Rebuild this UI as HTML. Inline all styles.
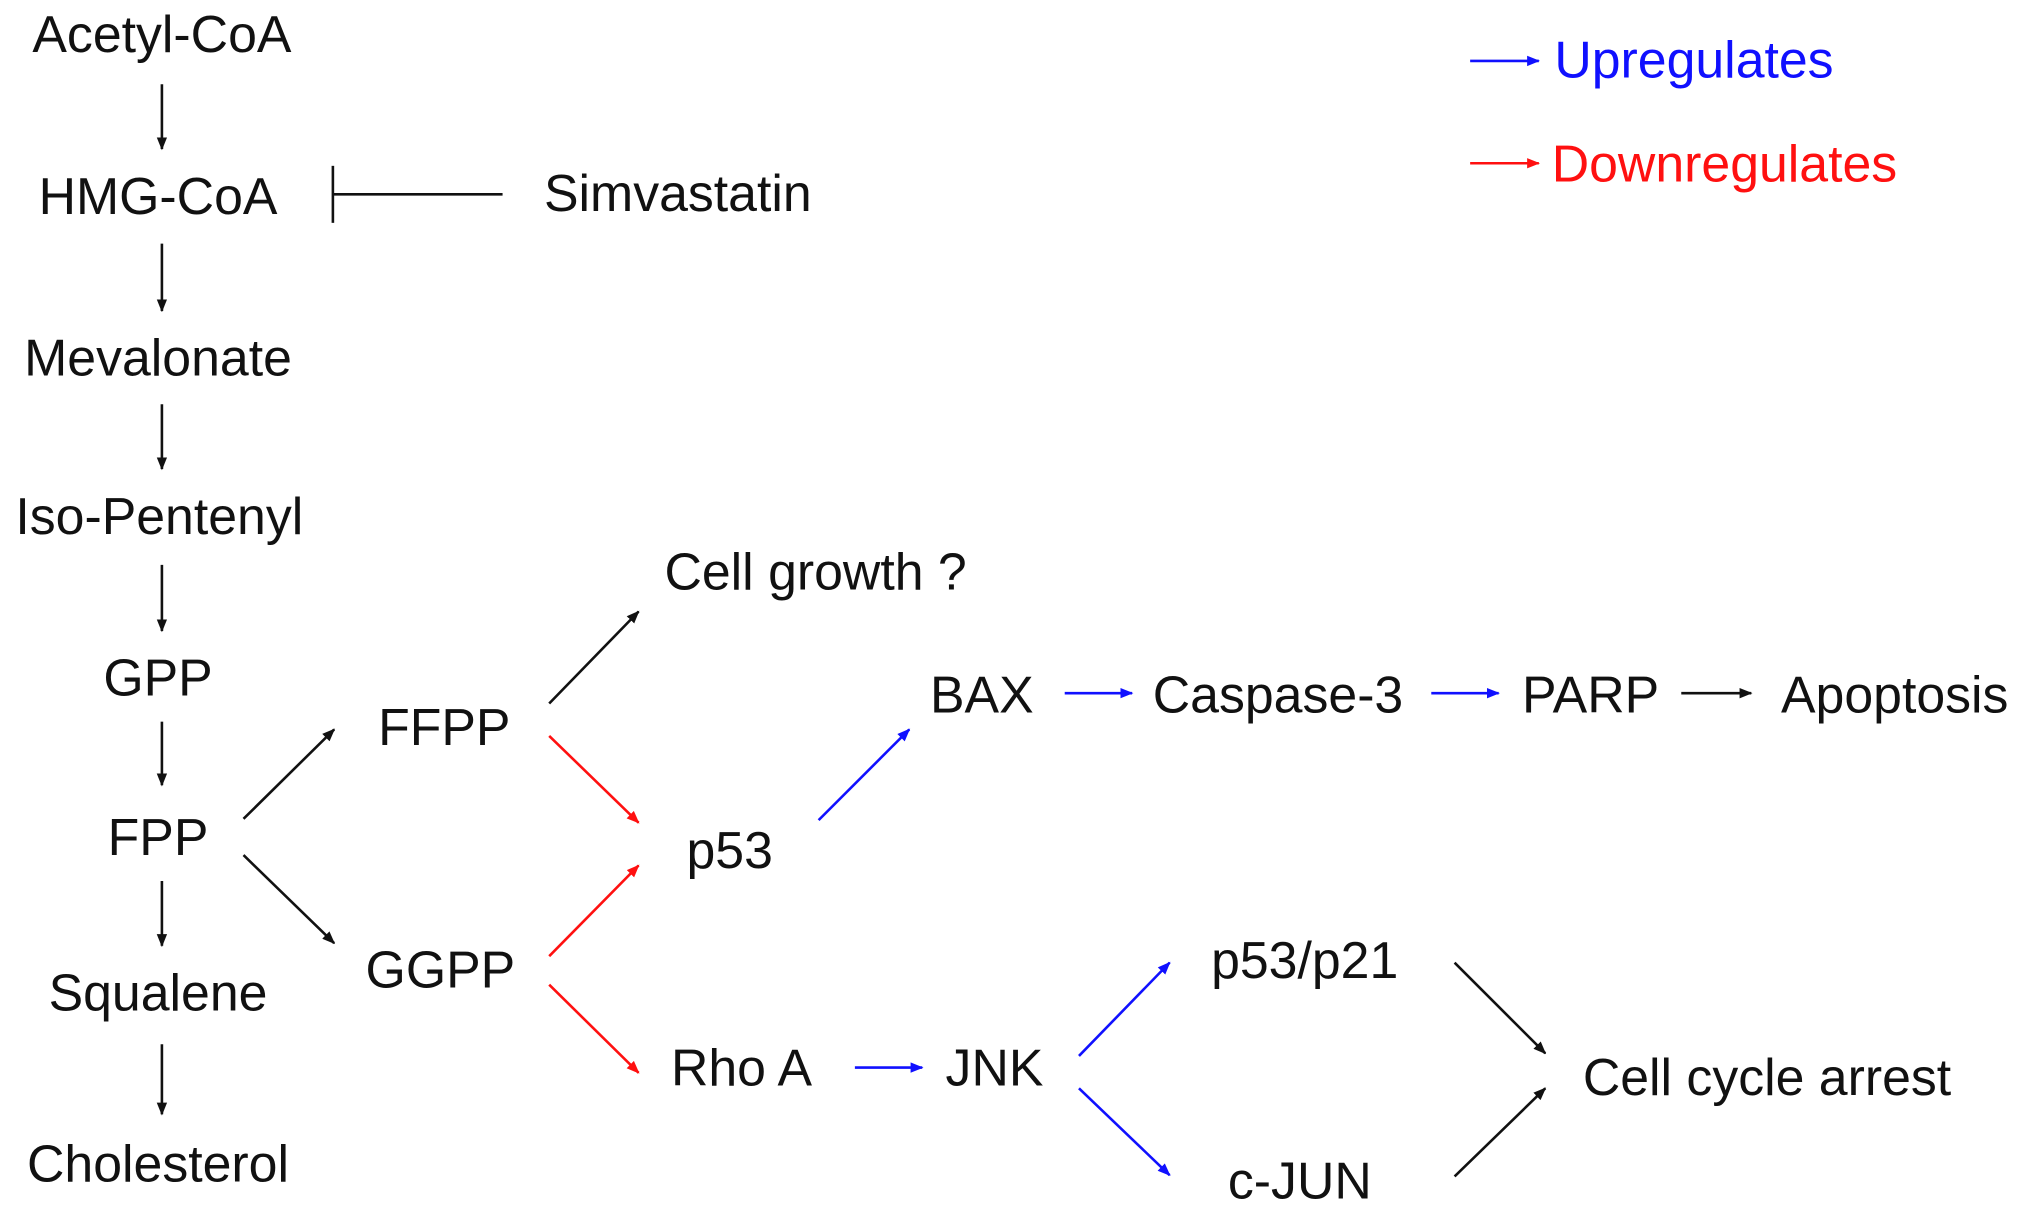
<!DOCTYPE html>
<html><head><meta charset="utf-8"><style>html,body{margin:0;padding:0;background:#fff}svg{display:block}</style></head><body>
<svg width="2031" height="1214" viewBox="0 0 1568 937" preserveAspectRatio="none" xmlns="http://www.w3.org/2000/svg">
<defs>
<marker id="k" viewBox="0 0 10 10" refX="9" refY="5" markerWidth="5" markerHeight="5" orient="auto"><path d="M0,1L10,5L0,9z" fill="#111"/></marker>
<marker id="b" viewBox="0 0 10 10" refX="9" refY="5" markerWidth="5" markerHeight="5" orient="auto"><path d="M0,1L10,5L0,9z" fill="#1010ff"/></marker>
<marker id="r" viewBox="0 0 10 10" refX="9" refY="5" markerWidth="5" markerHeight="5" orient="auto"><path d="M0,1L10,5L0,9z" fill="#ff1010"/></marker>
</defs>
<g font-family="Liberation Sans, Arial, sans-serif" font-size="40" fill="#111">
<g text-anchor="middle">
<text x="125" y="40">Acetyl-CoA</text>
<text x="122" y="165">HMG-CoA</text>
<text x="122" y="290">Mevalonate</text>
<text x="123" y="412">Iso-Pentenyl</text>
<text x="122" y="537">GPP</text>
<text x="122" y="660">FPP</text>
<text x="122" y="780">Squalene</text>
<text x="122" y="912">Cholesterol</text>
<text x="343" y="575">FFPP</text>
<text x="340" y="762">GGPP</text>
</g>
<text x="420" y="163">Simvastatin</text>
<text x="513" y="455">Cell  growth ?</text>
<text x="530" y="670">p53</text>
<text x="718" y="550">BAX</text>
<text x="890" y="550">Caspase-3</text>
<text x="1175" y="550">PARP</text>
<text x="1375" y="550">Apoptosis</text>
<text x="935" y="755">p53/p21</text>
<text x="1222" y="845">Cell cycle  arrest</text>
<text x="518" y="838">Rho A</text>
<text x="730" y="838">JNK</text>
<text x="948" y="925">c-JUN</text>
<text x="1200" y="60" fill="#1010ff">Upregulates</text>
<text x="1198" y="140" fill="#ff1010">Downregulates</text>
</g>
<g stroke-width="2" fill="none">
<g stroke="#111" marker-end="url(#k)">
<line x1="125" y1="65" x2="125" y2="115"/>
<line x1="125" y1="188" x2="125" y2="240"/>
<line x1="125" y1="312" x2="125" y2="362"/>
<line x1="125" y1="436" x2="125" y2="487"/>
<line x1="125" y1="557" x2="125" y2="606"/>
<line x1="125" y1="680" x2="125" y2="730"/>
<line x1="125" y1="806" x2="125" y2="860"/>
<line x1="188" y1="632" x2="258" y2="563"/>
<line x1="188" y1="660" x2="258" y2="728"/>
<line x1="424" y1="543" x2="493" y2="472"/>
<line x1="1298" y1="535" x2="1352" y2="535"/>
<line x1="1123" y1="743" x2="1193" y2="813"/>
<line x1="1123" y1="908" x2="1193" y2="840"/>
</g>
<g stroke="#111"><line x1="388" y1="150" x2="257" y2="150"/><line x1="257" y1="128" x2="257" y2="172"/></g>
<g stroke="#ff1010" marker-end="url(#r)">
<line x1="424" y1="568" x2="493" y2="635"/>
<line x1="424" y1="738" x2="493" y2="668"/>
<line x1="424" y1="760" x2="493" y2="828"/>
<line x1="1135" y1="126" x2="1188" y2="126"/>
</g>
<g stroke="#1010ff" marker-end="url(#b)">
<line x1="632" y1="633" x2="702" y2="563"/>
<line x1="822" y1="535" x2="874" y2="535"/>
<line x1="1105" y1="535" x2="1157" y2="535"/>
<line x1="660" y1="824" x2="712" y2="824"/>
<line x1="833" y1="815" x2="903" y2="743"/>
<line x1="833" y1="840" x2="903" y2="907"/>
<line x1="1135" y1="47" x2="1188" y2="47"/>
</g>
</g>
</svg>
</body></html>
